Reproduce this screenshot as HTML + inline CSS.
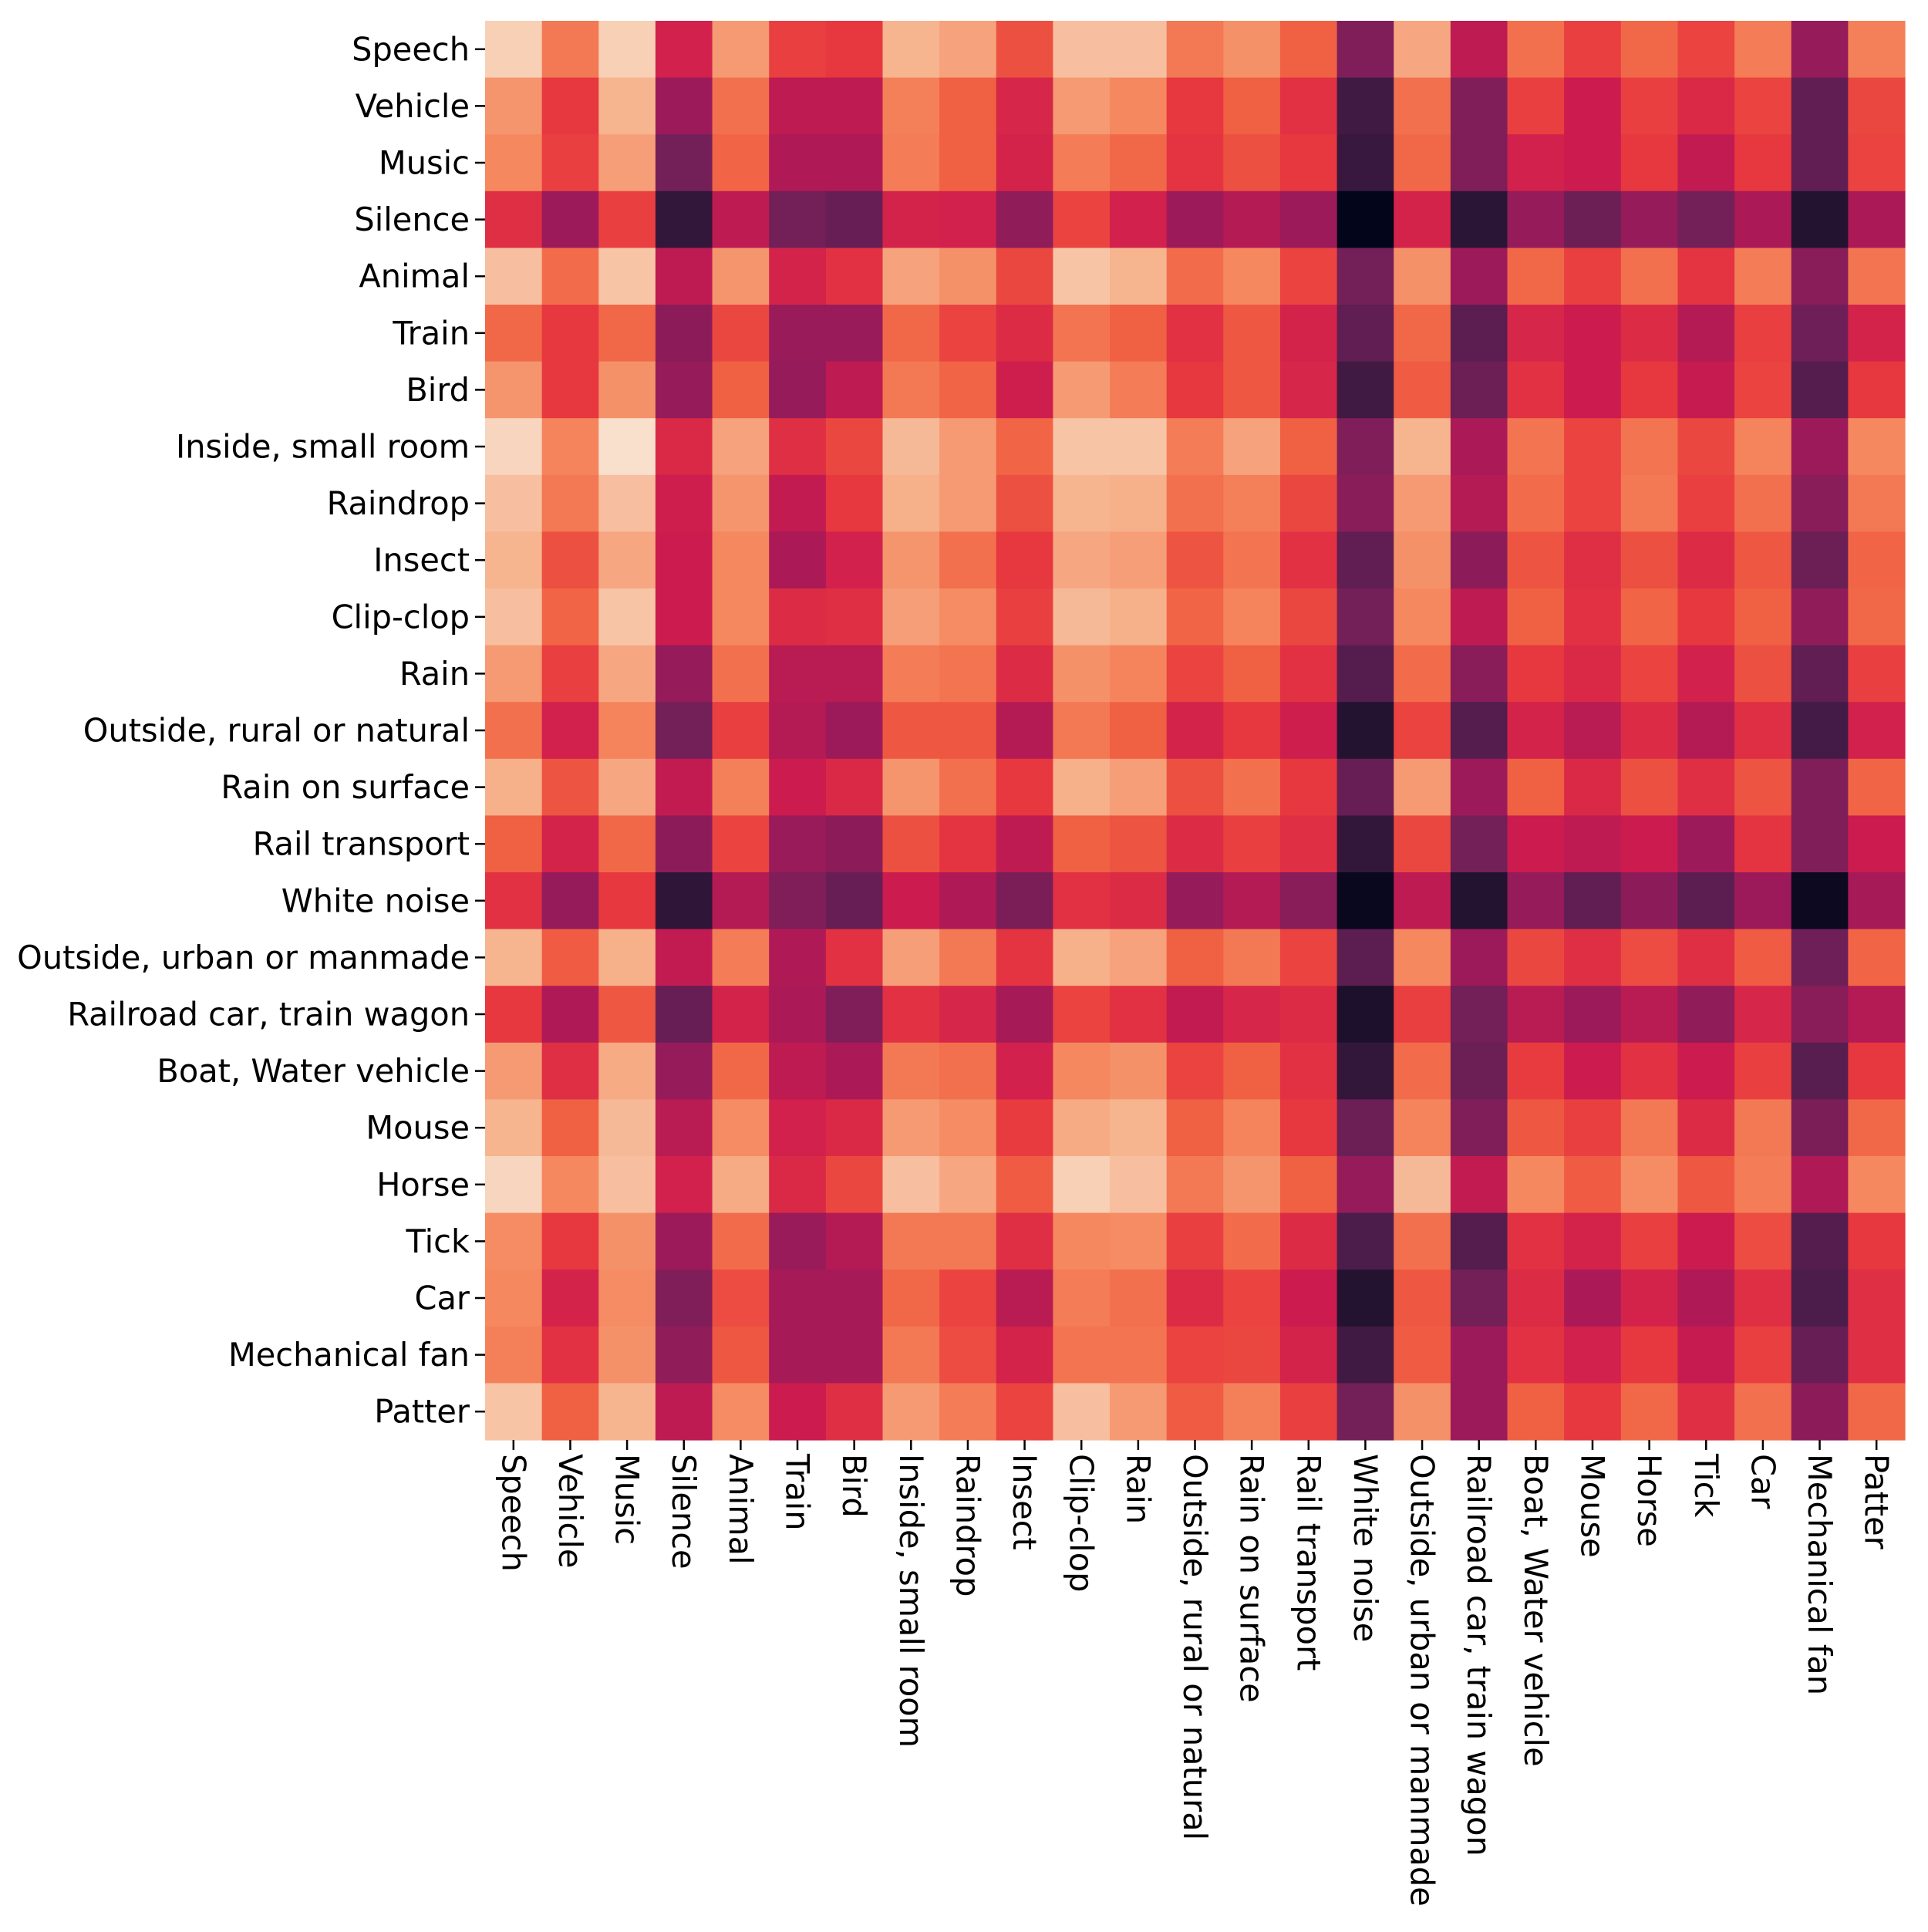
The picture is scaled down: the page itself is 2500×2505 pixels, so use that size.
<!DOCTYPE html>
<html><head><meta charset="utf-8"><style>
html,body{margin:0;padding:0;background:#fff;}
svg text{font-family:"DejaVu Sans","Liberation Sans",sans-serif;font-size:41.5px;fill:#000;}
</style></head><body>
<svg id="chart" width="2500" height="2500" viewBox="0 0 2500 2500" xmlns="http://www.w3.org/2000/svg">
<g id="cells"></g>
<g id="yaxis"></g>
<g id="xaxis"></g>
</svg>
<script>
const categories = ["Speech","Vehicle","Music","Silence","Animal","Train","Bird","Inside, small room","Raindrop","Insect","Clip-clop","Rain","Outside, rural or natural","Rain on surface","Rail transport","White noise","Outside, urban or manmade","Railroad car, train wagon","Boat, Water vehicle","Mouse","Horse","Tick","Car","Mechanical fan","Patter"];
const rowSpeech = [0.95,0.76,0.95,0.52,0.84,0.62,0.6,0.9,0.86,0.66,0.92,0.92,0.76,0.82,0.7,0.33,0.87,0.47,0.74,0.62,0.72,0.63,0.77,0.38,0.78];
const rowVehicle = [0.83,0.6,0.9,0.4,0.74,0.47,0.47,0.78,0.7,0.54,0.84,0.8,0.6,0.7,0.58,0.17,0.74,0.33,0.62,0.5,0.62,0.55,0.63,0.25,0.64];
const rowMusic = [0.8,0.62,0.85,0.3,0.71,0.44,0.44,0.77,0.7,0.53,0.77,0.72,0.59,0.66,0.6,0.15,0.72,0.33,0.52,0.5,0.6,0.48,0.6,0.25,0.63];
const rowSilence = [0.57,0.4,0.62,0.14,0.47,0.3,0.27,0.53,0.52,0.37,0.63,0.52,0.4,0.45,0.4,0.0,0.53,0.12,0.38,0.28,0.38,0.3,0.43,0.1,0.43];
const rowAnimal = [0.92,0.73,0.93,0.47,0.83,0.53,0.58,0.86,0.82,0.64,0.93,0.9,0.73,0.8,0.63,0.3,0.82,0.4,0.72,0.62,0.74,0.59,0.77,0.35,0.75];
const rowTrain = [0.72,0.6,0.72,0.36,0.64,0.39,0.39,0.72,0.63,0.56,0.75,0.7,0.58,0.68,0.53,0.25,0.72,0.24,0.54,0.5,0.56,0.45,0.62,0.29,0.53];
const rowBird = [0.83,0.6,0.82,0.38,0.7,0.38,0.47,0.76,0.71,0.51,0.84,0.77,0.6,0.68,0.54,0.17,0.69,0.28,0.58,0.5,0.6,0.49,0.63,0.22,0.6];
const rowInside = [0.96,0.79,0.98,0.55,0.86,0.57,0.64,0.91,0.84,0.71,0.93,0.93,0.77,0.86,0.7,0.33,0.9,0.43,0.75,0.63,0.75,0.64,0.79,0.4,0.8];
const rowRaindrop = [0.92,0.76,0.92,0.51,0.83,0.48,0.6,0.89,0.84,0.66,0.9,0.89,0.74,0.78,0.64,0.35,0.84,0.45,0.73,0.63,0.76,0.62,0.74,0.35,0.76];
const rowInsect = [0.9,0.66,0.87,0.5,0.8,0.43,0.52,0.83,0.74,0.6,0.87,0.85,0.67,0.75,0.58,0.25,0.82,0.36,0.67,0.57,0.66,0.56,0.68,0.28,0.71];
const rowClipClop = [0.92,0.71,0.93,0.5,0.8,0.56,0.57,0.85,0.81,0.62,0.91,0.89,0.71,0.79,0.64,0.3,0.8,0.47,0.7,0.58,0.71,0.6,0.7,0.37,0.72];
const rowRain = [0.84,0.62,0.87,0.38,0.74,0.46,0.46,0.77,0.75,0.56,0.82,0.79,0.63,0.7,0.58,0.22,0.73,0.35,0.6,0.55,0.63,0.52,0.66,0.25,0.62];
const rowOutRural = [0.74,0.52,0.79,0.3,0.62,0.45,0.4,0.68,0.68,0.45,0.76,0.7,0.53,0.6,0.51,0.1,0.63,0.22,0.53,0.46,0.56,0.45,0.57,0.18,0.52];
const rowRainSurface = [0.89,0.67,0.87,0.48,0.78,0.5,0.55,0.83,0.74,0.6,0.89,0.85,0.66,0.74,0.6,0.27,0.84,0.4,0.7,0.55,0.66,0.57,0.67,0.33,0.71];
const rowRailTransport = [0.7,0.53,0.72,0.36,0.63,0.39,0.36,0.66,0.59,0.47,0.7,0.67,0.56,0.62,0.57,0.14,0.64,0.3,0.5,0.47,0.5,0.4,0.59,0.33,0.5];
const rowWhiteNoise = [0.58,0.38,0.6,0.13,0.45,0.33,0.27,0.5,0.44,0.32,0.58,0.56,0.38,0.45,0.35,0.02,0.47,0.1,0.38,0.25,0.36,0.24,0.4,0.03,0.42];
const rowOutUrban = [0.9,0.69,0.89,0.48,0.77,0.44,0.58,0.85,0.76,0.59,0.89,0.86,0.7,0.76,0.63,0.24,0.8,0.4,0.64,0.57,0.65,0.57,0.69,0.29,0.71];
const rowRailroadCar = [0.6,0.44,0.68,0.27,0.53,0.43,0.33,0.58,0.54,0.42,0.63,0.58,0.48,0.54,0.56,0.08,0.62,0.3,0.46,0.4,0.46,0.37,0.54,0.35,0.45];
const rowBoat = [0.84,0.57,0.88,0.38,0.72,0.47,0.43,0.76,0.74,0.52,0.8,0.82,0.63,0.7,0.58,0.14,0.73,0.28,0.61,0.5,0.58,0.5,0.62,0.23,0.6];
const rowMouse = [0.9,0.7,0.91,0.46,0.81,0.52,0.55,0.84,0.81,0.61,0.88,0.9,0.7,0.79,0.6,0.28,0.79,0.33,0.68,0.62,0.76,0.56,0.76,0.32,0.72];
const rowHorse = [0.96,0.8,0.92,0.52,0.88,0.55,0.64,0.92,0.87,0.69,0.95,0.92,0.76,0.83,0.7,0.38,0.91,0.48,0.8,0.69,0.81,0.68,0.77,0.44,0.8];
const rowTick = [0.81,0.6,0.82,0.4,0.73,0.39,0.45,0.76,0.76,0.57,0.8,0.81,0.62,0.73,0.56,0.2,0.74,0.22,0.58,0.53,0.62,0.5,0.65,0.22,0.6];
const rowCar = [0.8,0.53,0.81,0.33,0.65,0.42,0.42,0.72,0.63,0.46,0.77,0.74,0.56,0.63,0.5,0.1,0.68,0.3,0.56,0.43,0.53,0.44,0.57,0.2,0.57];
const rowMechFan = [0.78,0.58,0.82,0.37,0.68,0.42,0.42,0.76,0.65,0.53,0.75,0.75,0.63,0.64,0.53,0.17,0.69,0.4,0.58,0.52,0.6,0.49,0.62,0.27,0.57];
const rowPatter = [0.93,0.7,0.9,0.47,0.81,0.5,0.57,0.84,0.77,0.63,0.92,0.84,0.69,0.78,0.62,0.3,0.82,0.4,0.7,0.6,0.72,0.57,0.74,0.36,0.72];
const matrix = [rowSpeech,rowVehicle,rowMusic,rowSilence,rowAnimal,rowTrain,rowBird,rowInside,rowRaindrop,rowInsect,rowClipClop,rowRain,rowOutRural,rowRainSurface,rowRailTransport,rowWhiteNoise,rowOutUrban,rowRailroadCar,rowBoat,rowMouse,rowHorse,rowTick,rowCar,rowMechFan,rowPatter];

const NS = "http://www.w3.org/2000/svg";
const X0 = 629, Y0 = 27, X1 = 2470, Y1 = 1867;
const n = categories.length;
const cw = (X1 - X0) / n, ch = (Y1 - Y0) / n;
function xScale(i){ return X0 + i * cw; }
function yScale(i){ return Y0 + i * ch; }
const stops = [[3,5,26],[35,19,49],[76,29,75],[115,31,88],[157,26,90],[203,27,79],[231,55,63],[240,96,67],[245,136,95],[246,180,143],[250,235,221]];
function rocket(v){
  v = Math.max(0, Math.min(1, v));
  const p = v * 10, i = Math.min(9, Math.floor(p)), t = p - i;
  const a = stops[i], b = stops[i+1];
  return "rgb(" + a.map((c,k)=>Math.round(c + (b[k]-c)*t)).join(",") + ")";
}
const cells = document.getElementById("cells");
matrix.forEach((row, r) => {
  row.forEach((v, c) => {
    const rect = document.createElementNS(NS, "rect");
    rect.setAttribute("x", xScale(c));
    rect.setAttribute("y", yScale(r));
    rect.setAttribute("width", cw + 0.6);
    rect.setAttribute("height", ch + 0.6);
    rect.setAttribute("fill", rocket(v));
    
    
    cells.appendChild(rect);
  });
});
const yaxis = document.getElementById("yaxis");
const xaxis = document.getElementById("xaxis");
categories.forEach((name, i) => {
  const cy = yScale(i) + ch / 2;
  const tk = document.createElementNS(NS, "line");
  tk.setAttribute("x1", X0 - 13); tk.setAttribute("x2", X0);
  tk.setAttribute("y1", cy); tk.setAttribute("y2", cy);
  tk.setAttribute("stroke", "#000"); tk.setAttribute("stroke-width", "2.5");
  
  
  yaxis.appendChild(tk);
  const t = document.createElementNS(NS, "text");
  t.setAttribute("x", X0 - 20); t.setAttribute("y", cy);
  t.setAttribute("text-anchor", "end"); t.setAttribute("dominant-baseline", "central");
  t.textContent = name;
  
  
  yaxis.appendChild(t);

  const cx = xScale(i) + cw / 2;
  const tk2 = document.createElementNS(NS, "line");
  tk2.setAttribute("x1", cx); tk2.setAttribute("x2", cx);
  tk2.setAttribute("y1", Y1); tk2.setAttribute("y2", Y1 + 13);
  tk2.setAttribute("stroke", "#000"); tk2.setAttribute("stroke-width", "2.5");
  
  
  xaxis.appendChild(tk2);
  const t2 = document.createElementNS(NS, "text");
  t2.setAttribute("transform", "translate(" + cx + "," + (Y1 + 18) + ") rotate(90)");
  t2.setAttribute("text-anchor", "start"); t2.setAttribute("dominant-baseline", "central");
  t2.textContent = name;
  
  
  xaxis.appendChild(t2);
});
</script>
</body></html>
